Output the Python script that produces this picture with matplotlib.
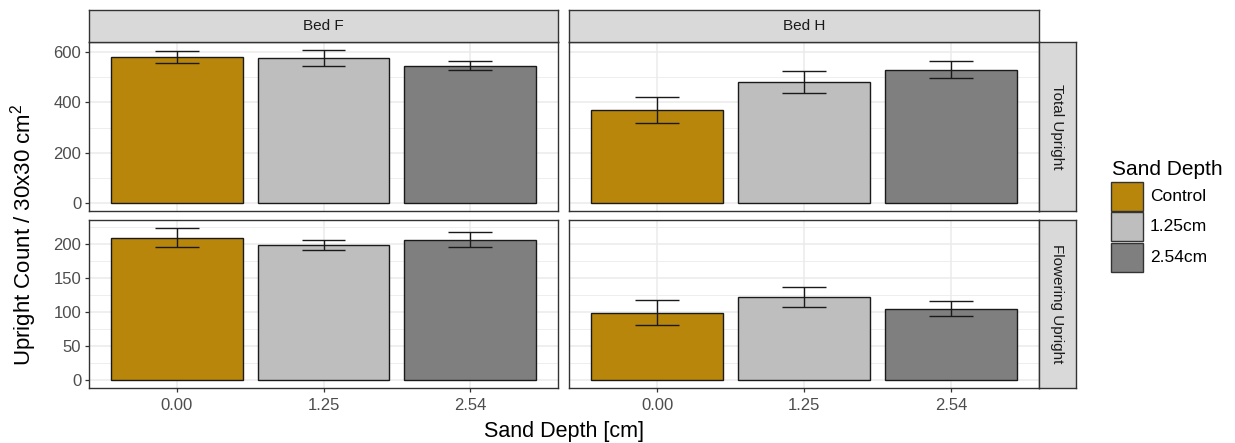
import matplotlib
matplotlib.use("Agg")
import matplotlib.pyplot as plt
from matplotlib.patches import Rectangle
from matplotlib.ticker import FixedLocator

plt.rcParams["font.family"] = ["Liberation Sans", "DejaVu Sans"]
plt.rcParams["mathtext.fontset"] = "custom"
plt.rcParams["mathtext.rm"] = "Liberation Sans"
plt.rcParams["mathtext.it"] = "Liberation Sans"

# ---- data -------------------------------------------------------------
beds = ["Bed F", "Bed H"]
measures = ["Total Upright", "Flowering Upright"]
depth_ticks = ["0.00", "1.25", "2.54"]
legend_labels = ["Control", "1.25cm", "2.54cm"]
fill_colors = ["#B8860B", "#BEBEBE", "#7F7F7F"]

total_bed_f = [579, 576, 545]
total_bed_f_se = [24, 32, 19]
total_bed_h = [369, 480, 529]
total_bed_h_se = [50, 43, 35]

flower_bed_f = [209, 198, 206]
flower_bed_f_se = [14.5, 7, 11.5]
flower_bed_h = [99, 122, 105]
flower_bed_h_se = [18.5, 15, 11]

means = {("Total Upright", "Bed F"): (total_bed_f, total_bed_f_se),
         ("Total Upright", "Bed H"): (total_bed_h, total_bed_h_se),
         ("Flowering Upright", "Bed F"): (flower_bed_f, flower_bed_f_se),
         ("Flowering Upright", "Bed H"): (flower_bed_h, flower_bed_h_se)}

row_major = {"Total Upright": [0, 200, 400, 600],
             "Flowering Upright": [0, 50, 100, 150, 200]}
row_minor = {"Total Upright": [100, 300, 500],
             "Flowering Upright": [25, 75, 125, 175, 225]}

# ---- layout (pixels) --------------------------------------------------
W, H = 1235, 443
fig = plt.figure(figsize=(W / 100, H / 100), dpi=100)
fig.patch.set_facecolor("white")

col_x = [(89, 558), (569, 1039)]
row_y = [(42, 211), (220, 388)]
strip_top = (10, 42)
strip_right = (1039, 1076)

BORDER = "#333333"
GRID = "#EBEBEB"
TICKCOL = "#4D4D4D"
STRIPTXT = "#1A1A1A"


def px_rect(x0, x1, y0, y1):
    return [x0 / W, 1 - y1 / H, (x1 - x0) / W, (y1 - y0) / H]


def add_strip(rect, text, rotation=0):
    s = fig.add_axes(rect)
    s.set_facecolor("#D9D9D9")
    s.set_xticks([])
    s.set_yticks([])
    for sp in s.spines.values():
        sp.set_color(BORDER)
        sp.set_linewidth(1.0)
    s.text(0.5, 0.5, text, transform=s.transAxes, ha="center", va="center",
           rotation=rotation, fontsize=11, color=STRIPTXT)
    return s


x_pos = [1, 2, 3]
for r, measure in enumerate(measures):
    row_top = max(m + e for b in beds
                  for m, e in zip(*means[(measure, b)]))
    for c, bed in enumerate(beds):
        ax = fig.add_axes(px_rect(col_x[c][0], col_x[c][1],
                                  row_y[r][0], row_y[r][1]))
        vals, errs = means[(measure, bed)]
        ax.bar(x_pos, vals, width=0.9, color=fill_colors,
               edgecolor="#1A1A1A", linewidth=1.0, zorder=2)
        ax.errorbar(x_pos, vals, yerr=errs, fmt="none", ecolor="#1A1A1A",
                    elinewidth=1.0, capsize=0, zorder=3)
        # horizontal caps, 0.3 category units wide
        for xp, v, e in zip(x_pos, vals, errs):
            ax.hlines([v - e, v + e], xp - 0.15, xp + 0.15,
                      color="#1A1A1A", linewidth=1.0, zorder=3)

        ax.set_xlim(0.4, 3.6)
        ax.set_ylim(-0.05 * row_top, 1.05 * row_top)
        ax.set_xticks(x_pos)
        ax.set_yticks(row_major[measure])
        ax.yaxis.set_minor_locator(FixedLocator(row_minor[measure]))
        ax.set_axisbelow(True)
        ax.grid(which="major", color=GRID, linewidth=1.1)
        ax.grid(which="minor", axis="y", color=GRID, linewidth=0.6)
        for sp in ax.spines.values():
            sp.set_color(BORDER)
            sp.set_linewidth(1.0)
        ax.tick_params(which="minor", length=0)
        ax.tick_params(which="major", color=BORDER, length=3, width=0.9,
                       labelsize=12, labelcolor=TICKCOL, pad=2.5)

        if c == 0:
            ax.set_yticklabels([str(t) for t in row_major[measure]])
        else:
            ax.tick_params(axis="y", which="major", length=0,
                           labelleft=False)
        if r == len(measures) - 1:
            ax.set_xticklabels(depth_ticks)
            ax.tick_params(axis="x", pad=4)
        else:
            ax.tick_params(axis="x", which="major", length=0,
                           labelbottom=False)

        if r == 0:
            add_strip(px_rect(col_x[c][0], col_x[c][1], strip_top[0],
                              strip_top[1]), bed)
        if c == len(beds) - 1:
            add_strip(px_rect(strip_right[0], strip_right[1], row_y[r][0],
                              row_y[r][1]), measure, rotation=-90)

# ---- axis titles ------------------------------------------------------
fig.text((89 + 1039) / 2 / W, 1 - 431 / H, "Sand Depth [cm]",
         ha="center", va="center", fontsize=15.5, color="black")
fig.text(24 / W, 1 - 235 / H, r"Upright Count / 30x30 cm$^{2}$",
         ha="center", va="center", rotation=90, fontsize=16, color="black")

# ---- legend -----------------------------------------------------------
fig.text(1112 / W, 1 - 175 / H, "Sand Depth", ha="left", va="baseline",
         fontsize=15, color="black")
key_tops = [182, 212, 243]
for top, col, lab in zip(key_tops, fill_colors, legend_labels):
    x0, y0, kw, kh = 1111, top, 32, 29
    fig.add_artist(Rectangle((x0 / W, 1 - (y0 + kh) / H), kw / W, kh / H,
                             transform=fig.transFigure, facecolor=col,
                             edgecolor="#333333", linewidth=1.0))
    fig.text(1150 / W, 1 - (y0 + kh / 2) / H, lab, ha="left", va="center",
             fontsize=12.5, color="black")

fig.savefig("out.png", dpi=100, facecolor="white")
